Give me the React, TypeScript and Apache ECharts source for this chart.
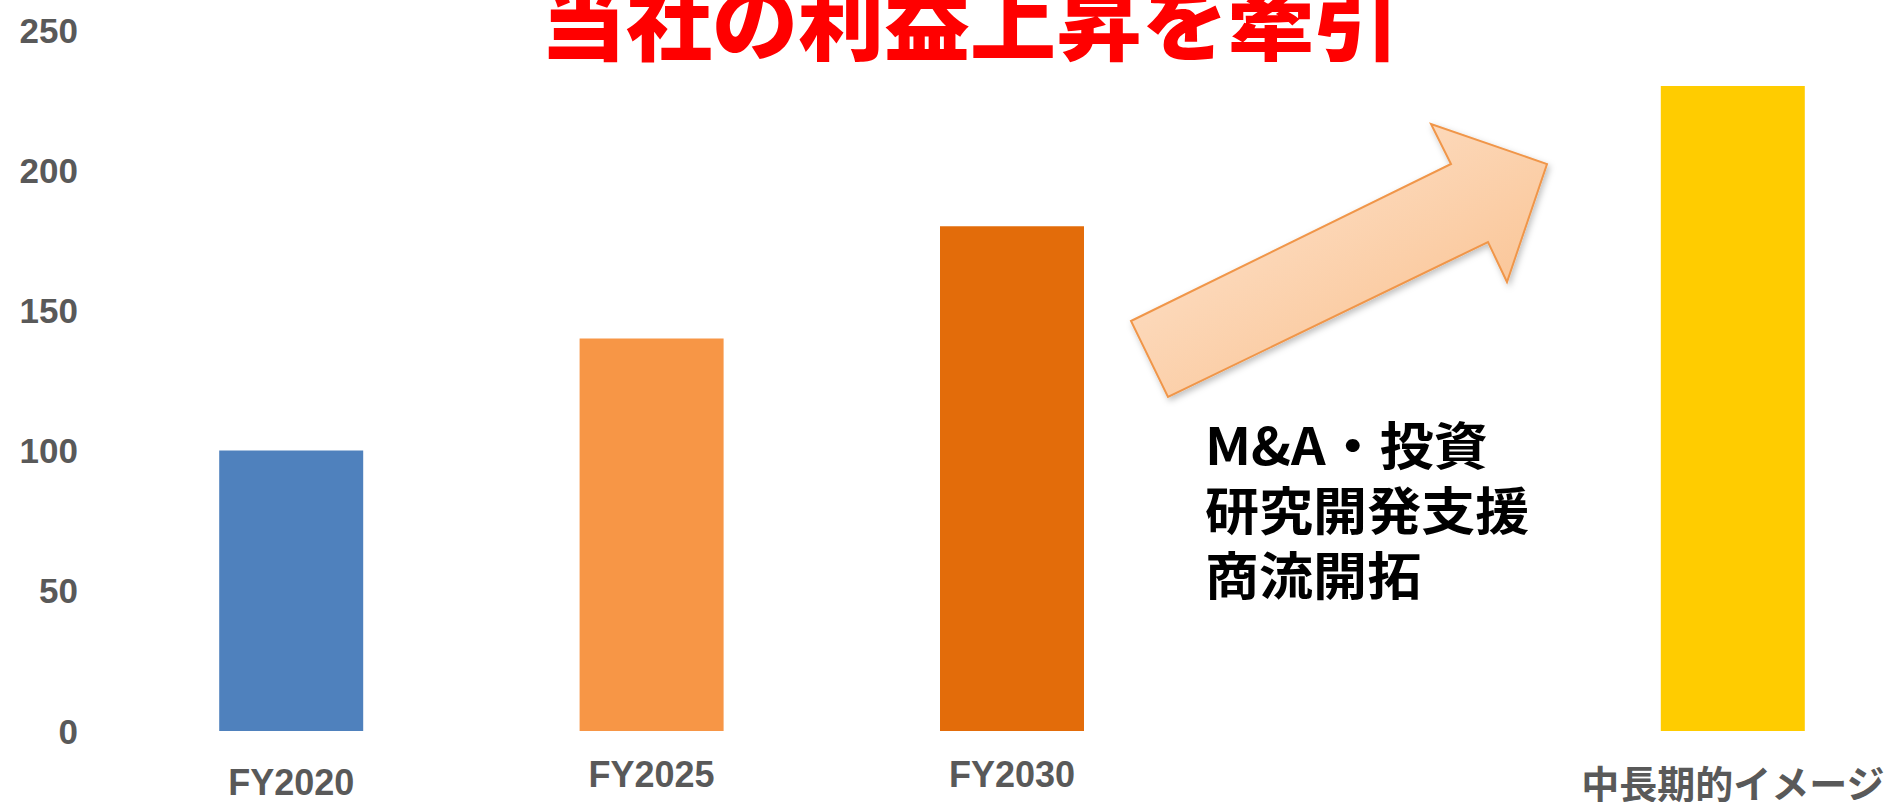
import React, { useEffect, useRef } from "react";
import * as echarts from "echarts";

const categories = ["FY2020", "FY2025", "FY2030", "", "中長期的イメージ"];
const values: (number | string)[] = [100, 140, 180, "-", 230];
const barColors = ["#4F81BD", "#F79646", "#E36C0A", "#FFFFFF", "#FFCC00"];
const labelOffsets = [8, 0, 0, 0, 10];
const labelSizes = [36, 36, 36, 36, 38];
const yTicks = { min: 0, max: 250, interval: 50 };
const titleText = "当社の利益上昇を牽引";
const noteLines = ["M&A・投資", "研究開発支援", "商流開拓"];

const arrowPoints: [number, number][] = [
  [1131, 321],
  [1451, 164],
  [1431, 124],
  [1547, 164],
  [1507, 282],
  [1488, 242],
  [1168, 397],
];

export default function App() {
  const ref = useRef<HTMLDivElement>(null);
  useEffect(() => {
    if (!ref.current) return;
    const chart = echarts.init(ref.current, null, { renderer: "svg" });
    const font = '"Liberation Sans", Arial, "Noto Sans CJK JP", sans-serif';
    chart.setOption({
      animation: false,
      backgroundColor: "#FFFFFF",
      grid: {
        left: 111,
        top: 30,
        right: 7,
        bottom: 71,
        containLabel: false,
        outerBoundsMode: "none",
      },
      xAxis: {
        type: "category",
        data: categories.map((c, i) => ({
          value: c,
          textStyle: { padding: [labelOffsets[i], 0, 0, 0], fontSize: labelSizes[i] },
        })),
        axisLine: { show: false },
        axisTick: { show: false },
        axisLabel: {
          interval: 0,
          margin: 25,
          color: "#595959",
          fontSize: 36,
          fontWeight: "bold",
          fontFamily: font,
        },
      },
      yAxis: {
        type: "value",
        min: yTicks.min,
        max: yTicks.max,
        interval: yTicks.interval,
        splitLine: { show: false },
        axisLine: { show: false },
        axisTick: { show: false },
        axisLabel: {
          margin: 33,
          color: "#595959",
          fontSize: 35,
          fontWeight: "bold",
          fontFamily: font,
        },
      },
      series: [
        {
          type: "bar",
          barWidth: 144,
          data: values.map((v, i) => ({ value: v, itemStyle: { color: barColors[i] } })),
        },
      ],
      graphic: [
        {
          type: "text",
          x: 970,
          y: 16,
          style: {
            text: titleText,
            fill: "#FF0000",
            fontSize: 86,
            fontWeight: 900,
            fontFamily: '"Noto Sans CJK JP", sans-serif',
            textAlign: "center",
            textVerticalAlign: "middle",
          },
        },
        {
          type: "polygon",
          shape: { points: arrowPoints },
          style: {
            fill: new echarts.graphic.LinearGradient(0, 0, 1, 1, [
              { offset: 0, color: "#FEE8D6" },
              { offset: 1, color: "#F9BC86" },
            ]),
            stroke: "#F0964A",
            lineWidth: 2,
            shadowBlur: 6,
            shadowColor: "rgba(0,0,0,0.25)",
            shadowOffsetX: 2,
            shadowOffsetY: 3,
          },
        },
        {
          type: "text",
          x: 1205,
          y: 410,
          scaleX: 1.06,
          style: {
            text: noteLines.join("\n"),
            fill: "#000000",
            fontSize: 51,
            lineHeight: 65,
            fontWeight: "bold",
            fontFamily: '"Noto Sans CJK JP", sans-serif',
            textAlign: "left",
            textVerticalAlign: "top",
          },
        },
      ],
    });
    return () => chart.dispose();
  }, []);
  return (
    <div
      style={{
        position: "fixed",
        left: 0,
        top: 0,
        width: 1886,
        height: 802,
        overflow: "hidden",
        background: "#FFFFFF",
      }}
    >
      <div ref={ref} style={{ width: 1920, height: 802 }} />
    </div>
  );
}
